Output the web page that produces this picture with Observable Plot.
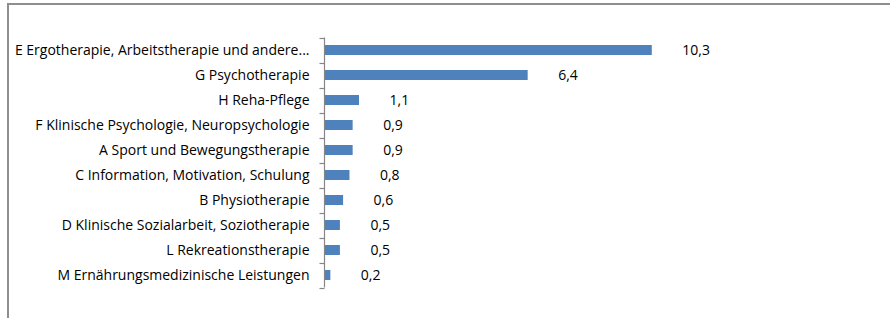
<!DOCTYPE html>
<html>
<head>
<meta charset="utf-8">
<script src="https://cdn.jsdelivr.net/npm/d3@7"></script>
<script src="https://cdn.jsdelivr.net/npm/@observablehq/plot@0.6"></script>
<style>
  html, body { margin: 0; padding: 0; background: #fff; }
  #wrap { position: relative; width: 890px; height: 318px; overflow: hidden; }
  #frame { position: absolute; left: 7px; top: 3px; width: 900px; height: 400px;
           border-top: 2px solid #8e8e8e; border-left: 2px solid #8e8e8e; box-sizing: border-box; }
  #chart { position: absolute; left: 0; top: 0; }
</style>
</head>
<body>
<div id="wrap"><div id="frame"></div><div id="chart"></div></div>
<script>
const categories = [
  "E Ergotherapie, Arbeitstherapie und andere...",
  "G Psychotherapie",
  "H Reha-Pflege",
  "F Klinische Psychologie, Neuropsychologie",
  "A Sport und Bewegungstherapie",
  "C Information, Motivation, Schulung",
  "B Physiotherapie",
  "D Klinische Sozialarbeit, Soziotherapie",
  "L Rekreationstherapie",
  "M Ernährungsmedizinische Leistungen"
];
const values = [10.3, 6.4, 1.1, 0.9, 0.9, 0.8, 0.6, 0.5, 0.5, 0.2];

const data = categories.map((c, i) => ({category: c, value: values[i]}));
const fmt = v => d3.format(".1f")(v).replace(".", ",");
const font = "'Open Sans', Lato, sans-serif";

// axis line with ticks at band boundaries
function bandAxis(index, scales, vals, dim) {
  const y = scales.y, x = scales.x;
  const dom = y.domain();
  const step = dom.length > 1 ? y(dom[1]) - y(dom[0]) : 25;
  const bw = y.bandwidth ? y.bandwidth() : 0;
  const c0 = y(dom[0]) + bw / 2;
  const x0 = Math.round(x(0)) + 0.5;
  const g = d3.create("svg:g").attr("stroke", "#868686").attr("stroke-width", 1.2).attr("fill", "none");
  const top = c0 - step / 2, bottom = c0 + step * (dom.length - 0.5);
  g.append("line").attr("x1", x0).attr("x2", x0).attr("y1", top).attr("y2", bottom);
  for (let i = 0; i <= dom.length; i++) {
    const yy = Math.round(top + i * step) + 0.5;
    g.append("line").attr("x1", x0 - 5).attr("x2", x0).attr("y1", yy).attr("y2", yy);
  }
  return g.node();
}

const chart = Plot.plot({
  width: 890,
  height: 318,
  marginLeft: 324,
  marginRight: 25,
  marginTop: 37,
  marginBottom: 31,
  style: {fontFamily: font, fontSize: "14px", color: "#000", background: "transparent"},
  x: {domain: [0, 17], axis: null},
  y: {domain: categories, paddingInner: 0.6, paddingOuter: 0.3, axis: null},
  marks: [
    Plot.barX(data, {y: "category", x: "value", fill: "#4f81bd"}),
    bandAxis,
    Plot.text(data, {y: "category", x: 0, text: "category", textAnchor: "end", dx: -15, fill: "#000", fontSize: 14}),
    Plot.text(data, {y: "category", x: "value", text: d => fmt(d.value), textAnchor: "start", dx: 30, fill: "#000", fontSize: 14})
  ]
});
document.getElementById("chart").appendChild(chart);
</script>
</body>
</html>
